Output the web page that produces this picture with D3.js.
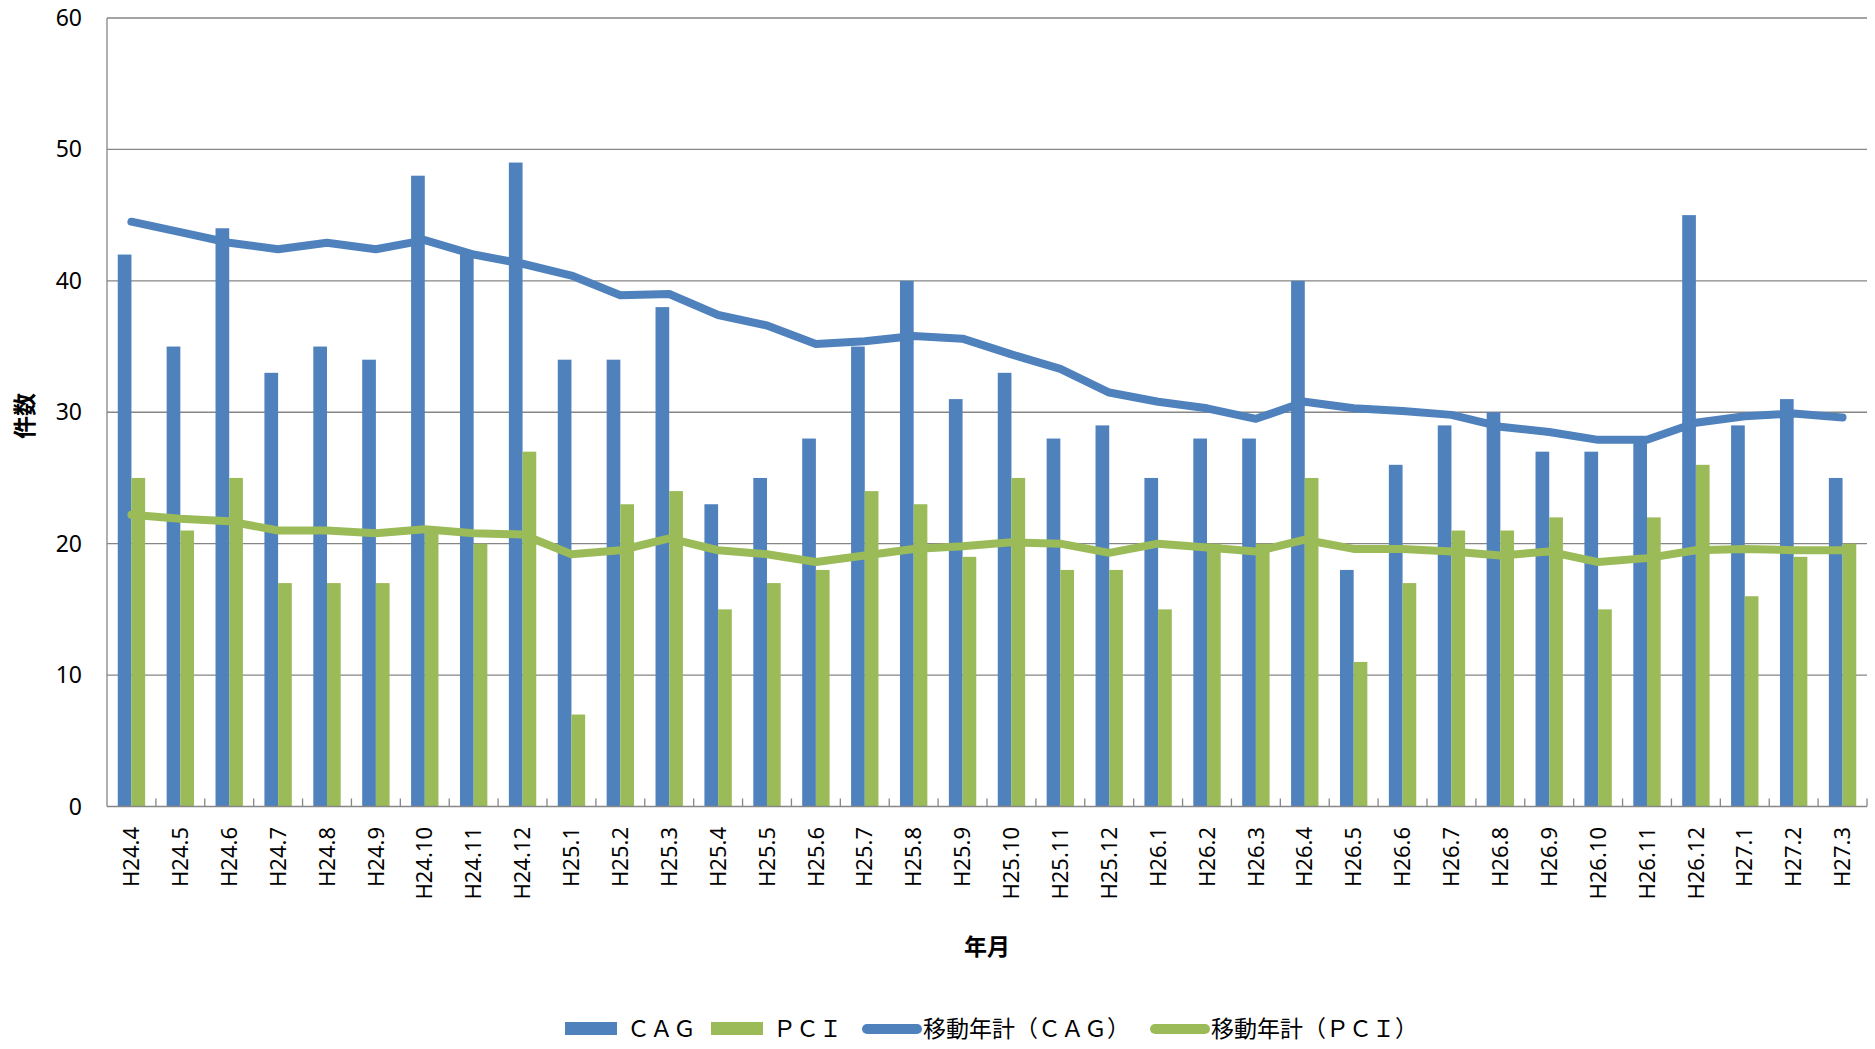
<!DOCTYPE html>
<meta charset="utf-8">
<script src="https://d3js.org/d3.v7.min.js"></script>
<style>
  body { margin: 0; background: #fff; }
  text { fill: #000; }
</style>
<svg id="chart" width="1875" height="1049"></svg>
<script>
  // month labels (Heisei year.month)
  var months = ["H24.4","H24.5","H24.6","H24.7","H24.8","H24.9","H24.10","H24.11","H24.12",
    "H25.1","H25.2","H25.3","H25.4","H25.5","H25.6","H25.7","H25.8","H25.9","H25.10","H25.11","H25.12",
    "H26.1","H26.2","H26.3","H26.4","H26.5","H26.6","H26.7","H26.8","H26.9","H26.10","H26.11","H26.12",
    "H27.1","H27.2","H27.3"]

  var cag = [42,35,44,33,35,34,48,42,49,34,34,38,23,25,28,35,40,31,33,28,29,
    25,28,28,40,18,26,29,30,27,27,28,45,29,31,25]
  var pci = [25,21,25,17,17,17,21,20,27,7,23,24,15,17,18,24,23,19,25,18,18,
    15,20,20,25,11,17,21,21,22,15,22,26,16,19,20]

  // moving annual totals (monthly average)
  var cagMA = [44.5,43.7,42.9,42.4,42.9,42.4,43.1,42.0,41.3,40.4,38.9,39.0,37.4,36.6,35.2,35.4,35.8,35.6,34.4,33.3,31.5,
    30.8,30.3,29.5,30.8,30.3,30.1,29.8,28.9,28.5,27.9,27.9,29.2,29.7,29.9,29.6]
  var pciMA = [22.2,21.9,21.7,21.0,21.0,20.8,21.1,20.8,20.7,19.2,19.5,20.4,19.5,19.2,18.6,19.1,19.6,19.8,20.1,20.0,19.3,
    20.0,19.7,19.4,20.3,19.6,19.6,19.4,19.1,19.4,18.6,18.9,19.5,19.6,19.5,19.5]

  var yTicks = [0,10,20,30,40,50,60]
  var legendItems = ["ＣＡＧ","ＰＣＩ","移動年計（ＣＡＧ）","移動年計（ＰＣＩ）"]

  var blue = "#4F81BD", green = "#9BBB59", gray = "#868686"
  var latin = "'Noto Sans', 'DejaVu Sans', sans-serif"
  var cjk = "'Noto Sans CJK JP', sans-serif"

  var svg = d3.select("#chart")
  var plotL = 107, plotR = 1867, plotT = 18, plotB = 806.5

  var x = d3.scaleBand()
    .domain(months)
    .range([plotL, plotR])
    .paddingInner(0.44)
    .paddingOuter(0.22)
  var x1 = d3.scaleBand()
    .domain(["cag","pci"])
    .range([0, x.bandwidth()])
  var y = d3.scaleLinear()
    .domain([0, 60])
    .range([plotB, plotT])

  // gridlines
  svg.append("g")
    .selectAll("line")
    .data(yTicks.filter(function(d){ return d > 0 }))
    .join("line")
      .attr("x1", plotL)
      .attr("x2", plotR)
      .attr("y1", function(d){ return y(d) })
      .attr("y2", function(d){ return y(d) })
      .attr("stroke", gray)
      .attr("stroke-width", 1.3)

  // y labels
  svg.append("g")
    .selectAll("text")
    .data(yTicks)
    .join("text")
      .attr("x", 82)
      .attr("y", function(d){ return y(d) })
      .attr("dy", "0.35em")
      .attr("text-anchor", "end")
      .style("font-family", latin)
      .style("font-size", "23px")
      .text(function(d){ return d })

  // bars
  var groups = svg.append("g")
    .selectAll("g")
    .data(months)
    .join("g")
      .attr("transform", function(d){ return "translate(" + x(d) + ",0)" })

  groups.append("rect")
    .attr("x", x1("cag"))
    .attr("width", x1.bandwidth())
    .attr("y", function(d, i){ return y(cag[i]) })
    .attr("height", function(d, i){ return plotB - y(cag[i]) })
    .attr("fill", blue)

  groups.append("rect")
    .attr("x", x1("pci"))
    .attr("width", x1.bandwidth())
    .attr("y", function(d, i){ return y(pci[i]) })
    .attr("height", function(d, i){ return plotB - y(pci[i]) })
    .attr("fill", green)

  // axes lines
  svg.append("line")
    .attr("x1", plotL).attr("x2", plotL)
    .attr("y1", plotT).attr("y2", plotB)
    .attr("stroke", gray).attr("stroke-width", 1.3)
  svg.append("line")
    .attr("x1", plotL).attr("x2", plotR)
    .attr("y1", plotB).attr("y2", plotB)
    .attr("stroke", gray).attr("stroke-width", 1.3)

  // category boundary ticks (pointing inward)
  svg.append("g")
    .selectAll("line")
    .data(d3.range(1, months.length + 1))
    .join("line")
      .attr("x1", function(i){ return plotL + i * x.step() })
      .attr("x2", function(i){ return plotL + i * x.step() })
      .attr("y1", plotB)
      .attr("y2", plotB - 8)
      .attr("stroke", gray)
      .attr("stroke-width", 1.3)

  // x labels, rotated
  svg.append("g")
    .selectAll("text")
    .data(months)
    .join("text")
      .attr("transform", function(d){
        return "translate(" + (x(d) + x.bandwidth() / 2) + ",827) rotate(-90)"
      })
      .attr("dy", "0.35em")
      .attr("text-anchor", "end")
      .style("font-family", latin)
      .style("font-size", "22px")
      .text(function(d){ return d })

  // moving average lines
  var line = d3.line()
    .x(function(d, i){ return x(months[i]) + x.bandwidth() / 2 })
    .y(function(d){ return y(d) })

  svg.append("path")
    .datum(cagMA)
    .attr("d", line)
    .attr("fill", "none")
    .attr("stroke", blue)
    .attr("stroke-width", 8)
    .attr("stroke-linejoin", "round")
    .attr("stroke-linecap", "round")

  svg.append("path")
    .datum(pciMA)
    .attr("d", line)
    .attr("fill", "none")
    .attr("stroke", green)
    .attr("stroke-width", 8)
    .attr("stroke-linejoin", "round")
    .attr("stroke-linecap", "round")

  // axis titles
  svg.append("text")
    .attr("transform", "translate(25,416) rotate(-90)")
    .attr("text-anchor", "middle")
    .attr("dy", "0.35em")
    .style("font-family", cjk)
    .style("font-weight", "bold")
    .style("font-size", "23px")
    .text("件数")

  svg.append("text")
    .attr("x", 987)
    .attr("y", 947)
    .attr("text-anchor", "middle")
    .attr("dy", "0.35em")
    .style("font-family", cjk)
    .style("font-weight", "bold")
    .style("font-size", "23px")
    .text("年月")

  // legend
  var legend = svg.append("g")
  var lx = 565, ly = 1029
  var keyColors = [blue, green, blue, green]
  legendItems.forEach(function(label, i){
    if (i < 2) {
      legend.append("rect")
        .attr("x", lx).attr("y", ly - 7)
        .attr("width", 52).attr("height", 13)
        .attr("fill", keyColors[i])
      lx += 62
    } else {
      legend.append("line")
        .attr("x1", lx + 5).attr("x2", lx + 55)
        .attr("y1", ly).attr("y2", ly)
        .attr("stroke", keyColors[i])
        .attr("stroke-width", 10)
        .attr("stroke-linecap", "round")
      lx += 61
    }
    var t = legend.append("text")
      .attr("x", lx)
      .attr("y", ly)
      .attr("dy", "0.35em")
      .style("font-family", cjk)
      .style("font-size", "23px")
      .text(label)
    lx += t.node().getComputedTextLength() + (i == 0 ? 15 : 20)
  })
</script>
